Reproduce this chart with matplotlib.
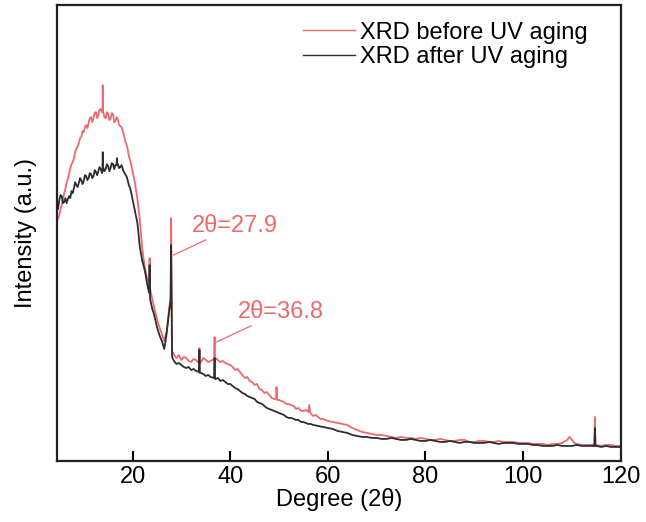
import matplotlib
matplotlib.use("Agg")
import matplotlib.pyplot as plt

plt.rcParams['font.family'] = ['Liberation Sans', 'DejaVu Sans']

# XRD before UV aging, (2theta, intensity a.u.)
before_pts = [
    (4.5, 239), (4.75, 243), (5.0, 246), (5.25, 252), (5.5, 256), (5.75, 262), (6.0, 268),
    (6.25, 272), (6.5, 279), (6.75, 282), (7.0, 287), (7.25, 293), (7.5, 297), (7.75, 299),
    (8.0, 303), (8.25, 309), (8.5, 312), (8.75, 315), (9.0, 318), (9.25, 323), (9.5, 324),
    (9.75, 330), (10.0, 329), (10.25, 334), (10.5, 336), (10.75, 333), (11.0, 338),
    (11.25, 343), (11.5, 344), (11.75, 339), (12.0, 343), (12.25, 348), (12.5, 349),
    (12.75, 343), (13.0, 346), (13.25, 352), (13.5, 352), (13.75, 349), (13.85, 349),
    (13.9, 376), (13.95, 350), (14.25, 344), (14.5, 343), (14.75, 349), (15.0, 348),
    (15.25, 341), (15.5, 342), (15.75, 348), (16.0, 347), (16.25, 339), (16.5, 340),
    (16.75, 344), (17.0, 342), (17.25, 336), (17.5, 335), (17.75, 334), (18.0, 330),
    (18.25, 326), (18.5, 320), (18.75, 317), (19.0, 312), (19.25, 305), (19.5, 301),
    (19.75, 296), (20.0, 290), (20.5, 278), (21.0, 262), (21.5, 240), (22.0, 212),
    (22.5, 194), (23.0, 182), (23.4, 178), (23.5, 203), (23.6, 172), (24.0, 163),
    (24.5, 152), (25.0, 142), (25.5, 134), (26.0, 127), (26.5, 120), (27.0, 130),
    (27.5, 152), (27.8, 165), (27.9, 243), (28.1, 110), (28.5, 106), (29.0, 103),
    (29.5, 106), (30.0, 101), (30.5, 104), (31, 103), (31.5, 100), (32, 99), (32.5, 102),
    (33, 101), (33.6, 98), (33.7, 113), (33.8, 97), (34, 99), (34.5, 103), (35, 101),
    (35.5, 99), (36, 100), (36.7, 102), (36.8, 124), (36.9, 100), (37, 103), (37.5, 101),
    (38, 99), (38.5, 100), (39, 98), (39.5, 97), (40, 96), (40.5, 94), (41, 91),
    (41.5, 92), (42, 89), (42.5, 86), (43, 83), (43.5, 84), (44, 80), (44.5, 79),
    (45, 76), (45.5, 77), (46, 72), (46.5, 71), (47, 68), (47.5, 69), (48, 66),
    (48.5, 63), (49, 62), (49.4, 62), (49.5, 74), (49.6, 61), (50, 61), (50.5, 60),
    (51, 59), (51.5, 57), (52, 57), (52.5, 56), (53, 55), (53.5, 52), (54, 53),
    (54.5, 50), (55, 50), (55.5, 51), (56, 49), (56.2, 56), (56.4, 48), (57, 45),
    (57.5, 46), (58, 44), (58.5, 42), (59, 42), (59.5, 41), (60, 40), (61, 39), (62, 38),
    (63, 37), (64, 36), (65, 33), (66, 31), (67, 29), (68, 28), (69, 27), (70, 26),
    (71, 26), (72, 25), (73, 24), (74, 23), (75, 24), (76, 23), (77, 23), (78, 22),
    (79, 23), (80, 22), (81, 21), (82, 21), (83, 22), (84, 21), (85, 20), (86, 20),
    (87, 21), (88, 21), (89, 19), (90, 19), (91, 20), (92, 20), (93, 19), (94, 19),
    (95, 20), (96, 19), (97, 19), (98, 19), (99, 18), (100, 18), (101, 18), (102, 17),
    (103, 17), (104, 17), (105, 16), (106, 17), (107, 17), (108, 18), (109, 21),
    (109.5, 24), (110, 21), (110.5, 18), (111, 17), (112, 16), (113, 16), (114, 16),
    (114.6, 17), (114.7, 44), (114.8, 17), (115, 16), (116, 15), (117, 16), (118, 16),
    (119, 15), (120, 15)]

# XRD after UV aging
after_pts = [
    (4.5, 256), (4.75, 252), (5.0, 261), (5.25, 266), (5.5, 265), (5.75, 258), (6.0, 259),
    (6.25, 263), (6.5, 258), (6.75, 262), (7.0, 265), (7.25, 263), (7.5, 270), (7.75, 268),
    (8.0, 273), (8.25, 279), (8.5, 276), (8.75, 274), (9.0, 278), (9.25, 283), (9.5, 281),
    (9.75, 277), (10.0, 280), (10.25, 286), (10.5, 285), (10.75, 281), (11.0, 283),
    (11.25, 288), (11.5, 287), (11.75, 283), (12.0, 285), (12.25, 291), (12.5, 289),
    (12.75, 286), (13.0, 290), (13.25, 294), (13.5, 292), (13.75, 288), (13.85, 290),
    (13.9, 309), (13.95, 294), (14.25, 290), (14.5, 292), (14.75, 297), (15.0, 295),
    (15.25, 290), (15.5, 293), (15.75, 298), (16.0, 297), (16.25, 292), (16.5, 296),
    (16.75, 296), (16.8, 303), (16.85, 297), (17.0, 297), (17.25, 293), (17.5, 294),
    (17.75, 296), (18.0, 292), (18.25, 289), (18.5, 287), (18.75, 285), (19.0, 281),
    (19.25, 276), (19.5, 273), (19.75, 268), (20.0, 262), (20.5, 250), (21.0, 238),
    (21.5, 214), (22.0, 200), (22.5, 191), (23.0, 177), (23.4, 168), (23.5, 196),
    (23.6, 162), (24.0, 153), (24.5, 145), (25.0, 134), (25.5, 126), (26.0, 120),
    (26.5, 112), (27.0, 128), (27.5, 150), (27.8, 160), (27.9, 216), (28.1, 104),
    (28.5, 100), (29.0, 97), (29.5, 98), (30.0, 96), (30.5, 94), (31, 93), (31.5, 94),
    (32, 91), (32.5, 92), (33, 90), (33.6, 89), (33.7, 111), (33.8, 88), (34, 88),
    (34.5, 87), (35, 85), (35.5, 86), (36, 84), (36.7, 83), (36.8, 103), (36.9, 82),
    (37, 82), (37.5, 83), (38, 80), (38.5, 81), (39, 79), (39.5, 77), (40, 77),
    (40.5, 75), (41, 73), (41.5, 72), (42, 70), (42.5, 68), (43, 67), (43.5, 65),
    (44, 64), (44.5, 63), (45, 62), (45.5, 59), (46, 58), (46.5, 57), (47, 55),
    (47.5, 53), (48, 52), (48.5, 51), (49, 50), (49.5, 49), (50, 48), (50.5, 47),
    (51, 46), (51.5, 44), (52, 43), (52.5, 43), (53, 42), (53.5, 41), (54, 41),
    (54.5, 39), (55, 39), (55.5, 38), (56, 37), (56.5, 37), (57, 36), (58, 35), (59, 34),
    (60, 33), (61, 32), (62, 30), (63, 29), (64, 28), (65, 26), (66, 25), (67, 24),
    (68, 24), (69, 23), (70, 23), (71, 22), (72, 22), (73, 23), (74, 22), (75, 21),
    (76, 21), (77, 22), (78, 21), (79, 20), (80, 20), (81, 21), (82, 20), (83, 19),
    (84, 19), (85, 20), (86, 19), (87, 18), (88, 19), (89, 19), (90, 18), (91, 18),
    (92, 18), (93, 19), (94, 18), (95, 17), (96, 18), (97, 18), (98, 18), (99, 17),
    (100, 17), (101, 17), (102, 16), (103, 16), (104, 15), (105, 15), (106, 15),
    (107, 16), (108, 15), (109, 15), (110, 15), (111, 16), (112, 15), (113, 15),
    (114, 15), (114.6, 15), (114.7, 33), (114.8, 15), (115, 15), (116, 14), (117, 15),
    (118, 14), (119, 14), (120, 14)]

deg_before, int_before = zip(*before_pts)
deg_after, int_after = zip(*after_pts)

red = '#EC6A6C'
dark = '#2E2E2E'

fig = plt.figure(figsize=(6.46, 5.22), dpi=100)
ax = fig.add_axes([0.088, 0.117, 0.873, 0.873])

ax.plot(deg_before, int_before, color=red, lw=1.3, label='XRD before UV aging')
ax.plot(deg_after, int_after, color=dark, lw=1.3, label='XRD after UV aging')

ax.set_xlim(4.5, 120)
ax.set_ylim(0, 456)
ax.set_xticks([20, 40, 60, 80, 100, 120])
ax.set_yticks([])
ax.tick_params(axis='x', direction='in', length=7, width=1.5, labelsize=17, pad=4)
for s in ax.spines.values():
    s.set_linewidth(1.6)
    s.set_color('#222222')

ax.set_xlabel('Degree (2θ)', fontsize=17, labelpad=0)
ax.set_ylabel('Intensity (a.u.)', fontsize=17, labelpad=14)

# peak annotations
ax.annotate('2θ=27.9', xy=(28.4, 206), xytext=(32.2, 235), color=red, fontsize=17,
            va='center', ha='left',
            arrowprops=dict(arrowstyle='-', color=red, lw=0.9, shrinkA=0, shrinkB=0))
ax.annotate('2θ=36.8', xy=(37.2, 119), xytext=(41.5, 149), color=red, fontsize=17,
            va='center', ha='left',
            arrowprops=dict(arrowstyle='-', color=red, lw=0.9, shrinkA=0, shrinkB=0))

leg = ax.legend(loc='upper right', bbox_to_anchor=(0.97, 1.0), frameon=False, fontsize=17,
                handlelength=2.2, handletextpad=0.2, labelspacing=0.1, borderaxespad=0.3)
for h in leg.get_lines():
    h.set_linewidth(1.0)

fig.savefig('out.png', dpi=100)
